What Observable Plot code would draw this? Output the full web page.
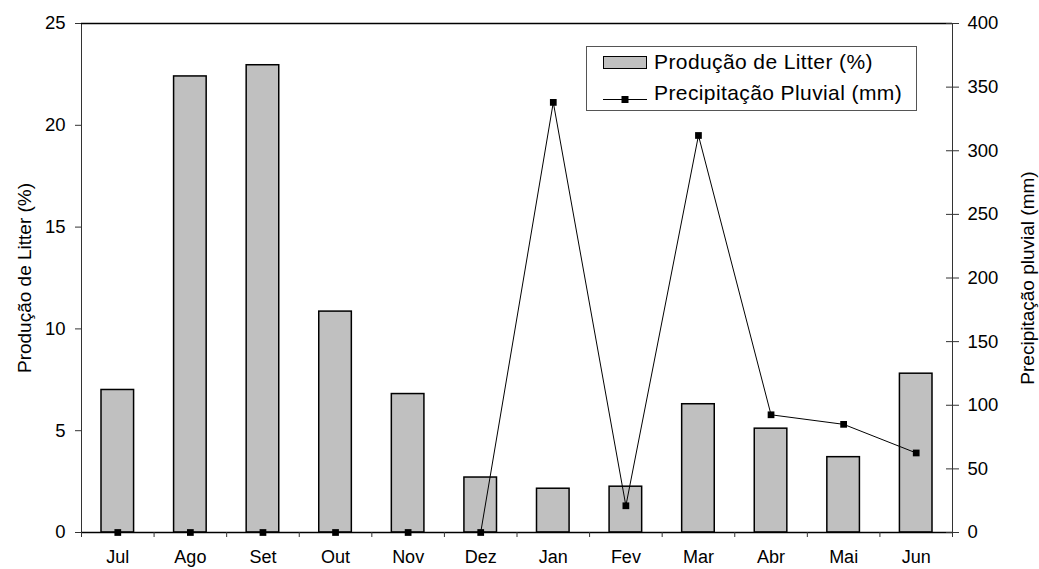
<!DOCTYPE html>
<html>
<head>
<meta charset="utf-8">
<script src="https://cdn.jsdelivr.net/npm/d3@7"></script>
<script src="https://cdn.jsdelivr.net/npm/@observablehq/plot@0.6"></script>
<style>
  html, body { margin: 0; padding: 0; background: #fff; }
  #wrap { position: relative; width: 1039px; height: 569px; font-family: "Liberation Sans", Arial, sans-serif; }
  #legend { position: absolute; left: 586px; top: 46px; width: 331px; height: 65px; border: 1px solid #555; box-sizing: border-box; background: #fff; font-size: 21px; color: #000; }
  .row { position: absolute; left: 0; height: 24px; display: flex; align-items: center; }
  .sw { display: inline-block; width: 44px; height: 13px; margin-left: 16px; margin-right: 7px; box-sizing: border-box; }
  .txt { white-space: nowrap; letter-spacing: 0.4px; }
</style>
</head>
<body>
<div id="wrap">
  <div id="chart"></div>
  <div id="legend">
    <div class="row" style="top:3px"><span class="sw" style="background:#c0c0c0;border:1.5px solid #000"></span><span class="txt">Produção de Litter (%)</span></div>
    <div class="row" style="top:34px"><span class="sw"><svg width="44" height="13"><line x1="0" y1="6.5" x2="44" y2="6.5" stroke="#000" stroke-width="1"/><rect x="18.5" y="3" width="7" height="7" fill="#000"/></svg></span><span class="txt">Precipitação Pluvial (mm)</span></div>
  </div>
</div>
<script>
const months = ["Jul", "Ago", "Set", "Out", "Nov", "Dez", "Jan", "Fev", "Mar", "Abr", "Mai", "Jun"];
const litter = [7.0, 22.4, 22.95, 10.85, 6.8, 2.7, 2.15, 2.25, 6.3, 5.1, 3.7, 7.8];
const rain = [0, 0, 0, 0, 0, 0, 338, 21, 312, 92.5, 85, 62.5];
const leftTicks = [0, 5, 10, 15, 20, 25];
const rightTicks = [0, 50, 100, 150, 200, 250, 300, 350, 400];

const k = 25 / 400; // rain -> left-axis units
const data = months.map((m, i) => ({month: m, i, litter: litter[i], rain: rain[i]}));

const chart = Plot.plot({
  width: 1039,
  height: 569,
  marginLeft: 81,
  marginRight: 87,
  marginTop: 23,
  marginBottom: 37,
  style: {fontFamily: "'Liberation Sans', Arial, sans-serif", fontSize: "18px", color: "#000", background: "#fff"},
  x: {domain: [0, 12], axis: null},
  y: {domain: [0, 25], axis: null},
  marks: [
    Plot.rectY(data, {x1: d => d.i, x2: d => d.i + 1, y: "litter", insetLeft: 20, insetRight: 20, fill: "#c0c0c0", stroke: "#000", strokeWidth: 1.5}),
    Plot.line(data.filter(d => d.i >= 5), {x: d => d.i + 0.5, y: d => d.rain * k, stroke: "#000", strokeWidth: 1}),
    Plot.dot(data, {x: d => d.i + 0.5, y: d => d.rain * k, symbol: "square", r: 3.8, fill: "#000", stroke: "none"}),
    Plot.ruleX([0], {stroke: "#333", strokeWidth: 1}),
    Plot.ruleX([12], {stroke: "#333", strokeWidth: 1}),
    Plot.ruleY([0], {stroke: "#000", strokeWidth: 1.5}),
    Plot.ruleY([25], {stroke: "#000", strokeWidth: 1.5}),
    Plot.axisY({ticks: leftTicks, tickSize: 6, tickPadding: 10, label: null, fontSize: 18.5, stroke: "#333"}),
    Plot.axisY({anchor: "right", ticks: rightTicks.map(v => v * k), tickFormat: v => Math.round(v / k), tickSize: 6, tickPadding: 9, label: null, fontSize: 18.5, stroke: "#333"}),
    Plot.axisY({anchor: "right", ticks: rightTicks.map(v => v * k), tickFormat: () => "", tickSize: -7, label: null, stroke: "#333"}),
    Plot.axisX({ticks: d3.range(0, 13), tickFormat: () => "", tickSize: 5, label: null, stroke: "#333"}),
    Plot.axisX({ticks: months.map((m, i) => i + 0.5), tickFormat: v => months[Math.round(v - 0.5)], tickSize: 0, tickPadding: 18, label: null, fontSize: 18}),
    Plot.text(["Produção de Litter (%)"], {frameAnchor: "left", textAnchor: "middle", dx: -57, rotate: -90, fontSize: 19, text: d => d}),
    Plot.text(["Precipitação pluvial (mm)"], {frameAnchor: "right", textAnchor: "middle", dx: 75, rotate: -90, fontSize: 19, text: d => d})
  ]
});
document.getElementById("chart").appendChild(chart);
</script>
</body>
</html>
